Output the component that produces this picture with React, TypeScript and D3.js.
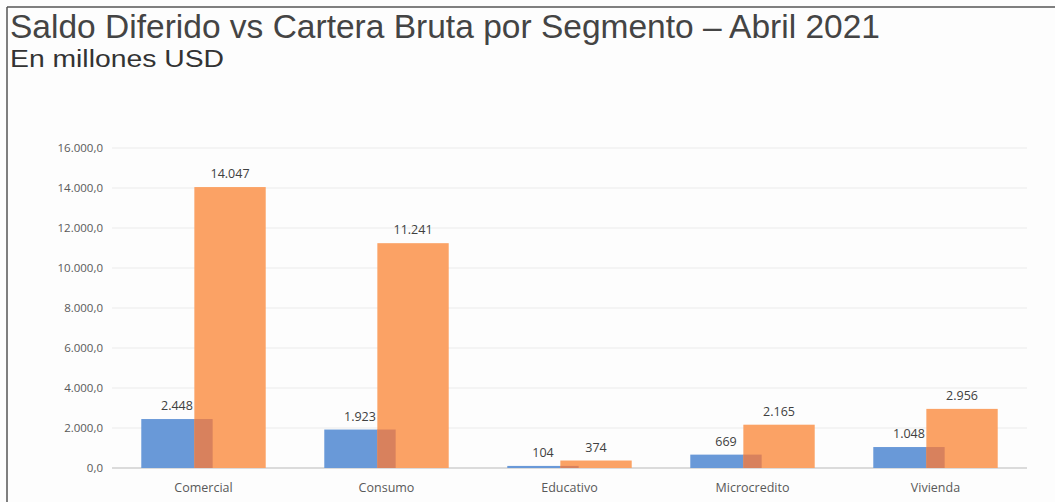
import React from "react";
import * as d3 from "d3";

const categories = ["Comercial", "Consumo", "Educativo", "Microcredito", "Vivienda"];
const saldoDiferido = [2448, 1923, 104, 669, 1048];
const carteraBruta = [14047, 11241, 374, 2165, 2956];
const yTicks = [0, 2000, 4000, 6000, 8000, 10000, 12000, 14000, 16000];
const titleText = "Saldo Diferido vs Cartera Bruta por Segmento – Abril 2021";
const subtitleText = "En millones USD";

const W = 1055;
const H = 502;
const BLUE = "#6999D8";
const ORANGE = "#FBA265";
const OVERLAP = "#D8815D";

const fmtTick = (v: number) => {
  const s = d3.format(",.1f")(v);
  return s.replace(/,/g, "#").replace(".", ",").replace(/#/g, ".");
};
const fmtLabel = (v: number) => d3.format(",")(v).replace(/,/g, ".");

export default function App() {
  const x = d3.scaleBand<string>().domain(categories).range([112, 1027]).padding(0);
  const y = d3.scaleLinear().domain([0, 16000]).range([468, 148]);
  const step = x.step();
  const barW = step * 0.39;
  const overlap = step * 0.1;
  const groupW = 2 * barW - overlap;
  const labelFont = "'Open Sans', 'Liberation Sans', sans-serif";
  const titleFont = "'Liberation Sans', 'DejaVu Sans', sans-serif";

  return (
    <svg width={W} height={H} style={{ position: "absolute", left: 0, top: 0, background: "#FDFDFD" }}>
      <rect x={0} y={0} width={W} height={H} fill="#FDFDFD" />
      <line x1={7} x2={W} y1={7} y2={7} stroke="#555" strokeWidth={1.5} />
      <line x1={7} x2={7} y1={7} y2={H} stroke="#555" strokeWidth={1.5} />
      <text x={10} y={38} fontFamily={titleFont} fontSize={34} fill="#444" textLength={870} lengthAdjust="spacingAndGlyphs">
        {titleText}
      </text>
      <text x={10} y={67} fontFamily={titleFont} fontSize={23} fill="#333" textLength={214} lengthAdjust="spacingAndGlyphs">
        {subtitleText}
      </text>
      {yTicks.map((t) => (
        <g key={t}>
          <line x1={112} x2={1027} y1={y(t)} y2={y(t)} stroke={t === 0 ? "#CFCFCF" : "#EBEBEB"} strokeWidth={t === 0 ? 1.5 : 1} />
          <text x={103} y={y(t) + 4} textAnchor="end" fontFamily={labelFont} fontSize={11.5} fill="#595959">
            {fmtTick(t)}
          </text>
        </g>
      ))}
      {categories.map((c, i) => {
        const cx = (x(c) as number) + step / 2;
        const bx = cx - groupW / 2;
        const ox = bx + barW - overlap;
        const minV = Math.min(saldoDiferido[i], carteraBruta[i]);
        return (
          <g key={c}>
            <rect x={bx} y={y(saldoDiferido[i])} width={barW} height={y(0) - y(saldoDiferido[i])} fill={BLUE} />
            <rect x={ox} y={y(carteraBruta[i])} width={barW} height={y(0) - y(carteraBruta[i])} fill={ORANGE} />
            <rect x={ox} y={y(minV)} width={overlap} height={y(0) - y(minV)} fill={OVERLAP} />
            <text x={bx + barW / 2} y={y(saldoDiferido[i]) - 9} textAnchor="middle" fontFamily={labelFont} fontSize={12.5} fill="#404040">
              {fmtLabel(saldoDiferido[i])}
            </text>
            <text x={ox + barW / 2} y={y(carteraBruta[i]) - 9} textAnchor="middle" fontFamily={labelFont} fontSize={12.5} fill="#404040">
              {fmtLabel(carteraBruta[i])}
            </text>
            <text x={cx} y={492} textAnchor="middle" fontFamily={labelFont} fontSize={12.5} fill="#595959">
              {c}
            </text>
          </g>
        );
      })}
    </svg>
  );
}
